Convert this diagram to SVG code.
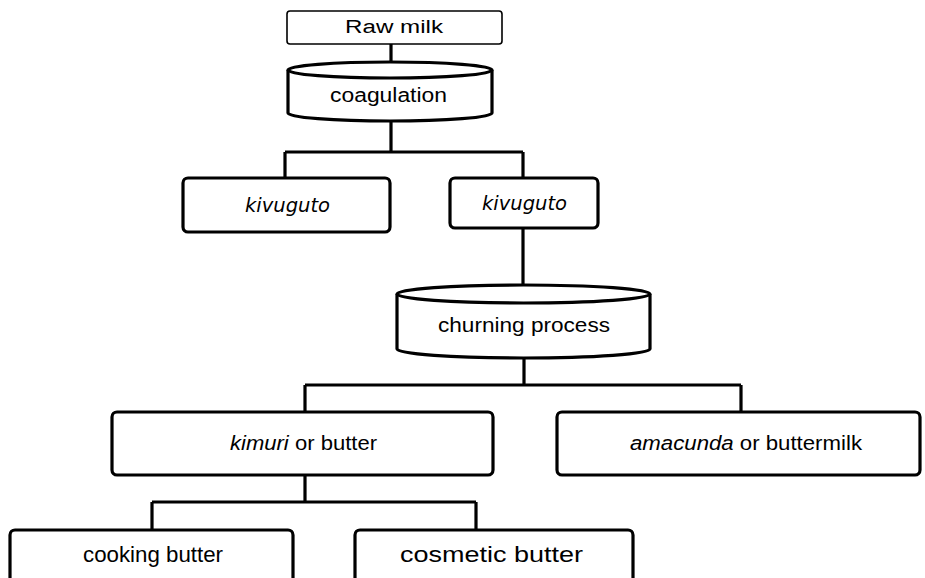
<svg xmlns="http://www.w3.org/2000/svg" width="925" height="578" viewBox="0 0 925 578">
<style>
.box{fill:#fff;stroke:#000;stroke-width:3.2}
.thin{fill:#fff;stroke:#000;stroke-width:1.6}
.cyl{fill:#fff;stroke:#000;stroke-width:3.2}
.ln{fill:none;stroke:#000;stroke-width:3.2}
text{font-family:"Liberation Sans",Arial,sans-serif;font-size:20px;fill:#000;text-anchor:start}
.k{font-family:"DejaVu Sans","Liberation Sans",sans-serif;font-style:italic}
.big{font-size:22px}
</style>
<rect width="925" height="578" fill="#fff"/>
<g id="connectors">
<path class="ln" d="M391,44 V63"/>
<path class="ln" d="M391,121 V152 M285,152 H523 M285,152 V178 M523,152 V178"/>
<path class="ln" d="M523,228 V286"/>
<path class="ln" d="M524,358 V385 M305,385 H741 M305,385 V412 M741,385 V412"/>
<path class="ln" d="M305,475 V502 M152,502 H476 M152,502 V530 M476,502 V530"/>
</g>
<g id="raw-milk">
<rect class="thin" x="287" y="11" width="215" height="33" rx="3"/>
<text x="345" y="33" style="font-size:18px" textLength="98" lengthAdjust="spacingAndGlyphs">Raw milk</text>
</g>
<g id="coagulation">
<path class="cyl" d="M288,70 A102,8 0 0 1 492,70 L492,113 A102,8 0 0 1 288,113 Z"/>
<path class="ln" d="M288,70 A102,8 0 0 0 492,70"/>
<text x="330" y="102" textLength="117" lengthAdjust="spacingAndGlyphs">coagulation</text>
</g>
<g id="kivuguto-1">
<rect class="box" x="183" y="178" width="207" height="54" rx="5"/>
<text class="k" x="245" y="212" textLength="85" lengthAdjust="spacingAndGlyphs">kivuguto</text>
</g>
<g id="kivuguto-2">
<rect class="box" x="450" y="178" width="148" height="50" rx="5"/>
<text class="k" x="482" y="210" textLength="85" lengthAdjust="spacingAndGlyphs">kivuguto</text>
</g>
<g id="churning">
<path class="cyl" d="M397,294 A126.5,9 0 0 1 650,294 L650,349 A126.5,9 0 0 1 397,349 Z"/>
<path class="ln" d="M397,294 A126.5,9 0 0 0 650,294"/>
<text x="438" y="332" textLength="172" lengthAdjust="spacingAndGlyphs">churning process</text>
</g>
<g id="kimuri">
<rect class="box" x="112" y="412" width="381" height="63" rx="5"/>
<text x="230" y="450" textLength="147" lengthAdjust="spacingAndGlyphs"><tspan font-style="italic">kimuri</tspan> or butter</text>
</g>
<g id="amacunda">
<rect class="box" x="557" y="412" width="363" height="63" rx="5"/>
<text x="630" y="450" textLength="232" lengthAdjust="spacingAndGlyphs"><tspan font-style="italic">amacunda</tspan> or buttermilk</text>
</g>
<g id="cooking-butter">
<rect class="box" x="10" y="530" width="283" height="70" rx="5"/>
<text class="big" x="83" y="562" textLength="140" lengthAdjust="spacingAndGlyphs">cooking butter</text>
</g>
<g id="cosmetic-butter">
<rect class="box" x="355" y="530" width="278" height="70" rx="5"/>
<text class="big" x="400" y="562" textLength="183" lengthAdjust="spacingAndGlyphs">cosmetic butter</text>
</g>
</svg>
